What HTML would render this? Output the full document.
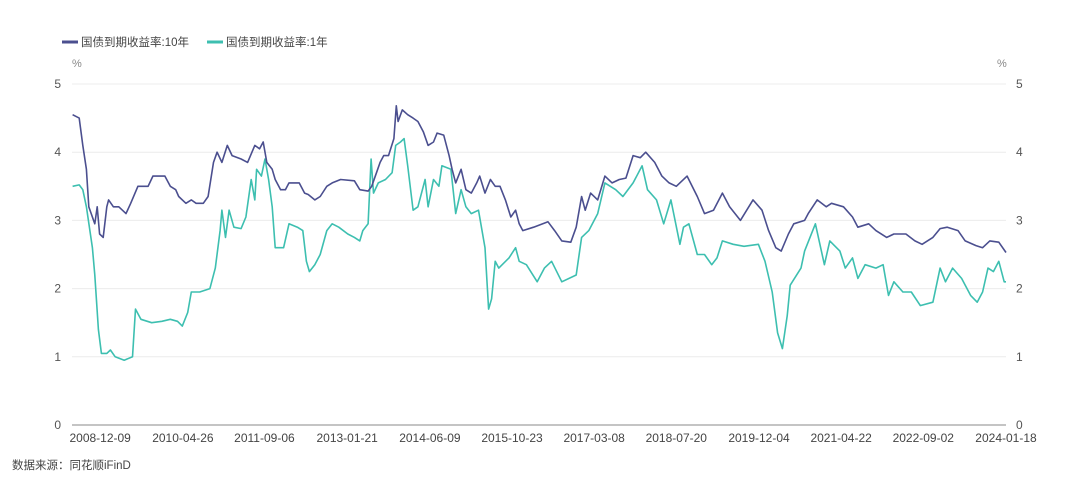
<!DOCTYPE html>
<html><head><meta charset="utf-8">
<style>
html,body{margin:0;padding:0;background:#fff;width:1080px;height:488px;overflow:hidden}
svg{display:block;font-family:"Liberation Sans","Noto Sans CJK SC",sans-serif}
</style></head>
<body>
<svg id="chart" width="1080" height="488" viewBox="0 0 1080 488">
  <g>
    <g>
      <line x1="62" y1="42" x2="78" y2="42" stroke="#4b4f8f" stroke-width="3"/>
      <text x="81" y="46" font-size="11.5" fill="#444">国债到期收益率:10年</text>
    </g>
    <g>
      <line x1="207" y1="42" x2="223" y2="42" stroke="#3dbfb0" stroke-width="3"/>
      <text x="226" y="46" font-size="11.5" fill="#444">国债到期收益率:1年</text>
    </g>
  </g>
  <text x="72" y="67" font-size="11" fill="#888">%</text>
  <text x="997" y="67" font-size="11" fill="#888">%</text>
  <g id="grid"></g>
  <g id="yl"></g>
  <g id="yr"></g>
  <g id="xa"></g>
  <g id="series"></g>
  <text x="12" y="469" font-size="11.5" fill="#444">数据来源：同花顺iFinD</text>
</svg>
<script>
const yTicks = [0,1,2,3,4,5];
const xTickLabels = ["2008-12-09","2010-04-26","2011-09-06","2013-01-21","2014-06-09","2015-10-23","2017-03-08","2018-07-20","2019-12-04","2021-04-22","2022-09-02","2024-01-18"];
const xTickYears = [2008.94,2010.32,2011.68,2013.06,2014.44,2015.81,2017.18,2018.55,2019.93,2021.30,2022.67,2024.05];

const t10 = [2008.48,2008.59,2008.65,2008.71,2008.75,2008.79,2008.85,2008.89,2008.93,2008.99,2009.05,2009.08,2009.16,2009.25,2009.37,2009.45,2009.57,2009.74,2009.82,2009.97,2010.02,2010.11,2010.20,2010.25,2010.37,2010.46,2010.54,2010.66,2010.74,2010.83,2010.89,2010.97,2011.06,2011.14,2011.29,2011.40,2011.52,2011.60,2011.66,2011.72,2011.81,2011.86,2011.95,2012.03,2012.09,2012.26,2012.35,2012.41,2012.52,2012.61,2012.72,2012.81,2012.95,2013.18,2013.27,2013.41,2013.47,2013.55,2013.61,2013.67,2013.75,2013.84,2013.88,2013.91,2013.98,2014.07,2014.16,2014.24,2014.33,2014.41,2014.50,2014.56,2014.67,2014.76,2014.81,2014.87,2014.96,2015.04,2015.13,2015.22,2015.27,2015.36,2015.45,2015.53,2015.61,2015.70,2015.79,2015.87,
2015.93,2015.99,2016.17,2016.41,2016.52,2016.64,2016.79,2016.88,2016.97,2017.03,2017.12,2017.24,2017.36,2017.48,2017.60,2017.71,2017.83,2017.95,2018.04,2018.19,2018.31,2018.43,2018.55,2018.73,2018.90,2019.02,2019.17,2019.32,2019.44,2019.62,2019.83,2019.98,2020.09,2020.21,2020.30,2020.42,2020.51,2020.69,2020.75,2020.90,2021.05,2021.14,2021.34,2021.49,2021.58,2021.76,2021.88,2022.06,2022.18,2022.38,2022.53,2022.65,2022.83,2022.95,2023.07,2023.25,2023.37,2023.55,2023.66,2023.78,2023.93,2024.05];
const v10 = [4.55,4.50,4.10,3.75,3.20,3.10,2.95,3.20,2.80,2.75,3.20,3.30,3.20,3.20,3.10,3.25,3.50,3.50,3.65,3.65,3.65,3.50,3.45,3.35,3.25,3.30,3.25,3.25,3.35,3.85,4.00,3.85,4.10,3.95,3.90,3.85,4.10,4.05,4.15,3.85,3.75,3.60,3.45,3.45,3.55,3.55,3.40,3.38,3.30,3.35,3.50,3.55,3.60,3.58,3.45,3.43,3.50,3.70,3.85,3.95,3.95,4.20,4.68,4.45,4.62,4.55,4.50,4.45,4.30,4.10,4.15,4.28,4.25,3.95,3.75,3.55,3.75,3.45,3.40,3.55,3.65,3.40,3.60,3.50,3.50,3.30,3.05,3.15,
2.95,2.85,2.90,2.98,2.85,2.70,2.68,2.90,3.35,3.15,3.40,3.30,3.65,3.55,3.60,3.62,3.95,3.92,4.00,3.85,3.65,3.55,3.50,3.65,3.35,3.10,3.15,3.40,3.20,3.00,3.30,3.15,2.85,2.60,2.55,2.80,2.95,3.00,3.10,3.30,3.20,3.25,3.20,3.05,2.90,2.95,2.85,2.75,2.80,2.80,2.70,2.65,2.75,2.88,2.90,2.85,2.70,2.63,2.60,2.70,2.68,2.53];

const t1 = [2008.48,2008.59,2008.65,2008.71,2008.76,2008.81,2008.85,2008.91,2008.96,2009.05,2009.11,2009.19,2009.34,2009.48,2009.53,2009.62,2009.80,2009.97,2010.11,2010.23,2010.31,2010.40,2010.46,2010.60,2010.77,2010.86,2010.94,2010.97,2011.03,2011.09,2011.17,2011.29,2011.37,2011.46,2011.52,2011.55,2011.63,2011.69,2011.75,2011.81,2011.86,2011.95,2012.00,2012.09,2012.23,2012.32,2012.38,2012.43,2012.52,2012.61,2012.72,2012.81,2012.92,2013.07,2013.18,2013.27,2013.32,2013.41,2013.46,2013.50,2013.58,2013.70,2013.81,2013.87,2013.95,2014.01,2014.07,2014.16,2014.24,2014.36,2014.41,2014.50,2014.59,2014.64,2014.79,2014.87,2014.96,2015.04,2015.13,2015.25,2015.36,2015.42,2015.47,2015.53,2015.59,2015.76,2015.87,
2015.93,2016.05,2016.23,2016.35,2016.47,2016.64,2016.88,2016.97,2017.09,2017.24,2017.36,2017.54,2017.66,2017.83,2017.98,2018.07,2018.22,2018.34,2018.46,2018.61,2018.67,2018.76,2018.90,2019.02,2019.14,2019.23,2019.32,2019.50,2019.68,2019.92,2020.03,2020.15,2020.24,2020.32,2020.40,2020.45,2020.63,2020.69,2020.87,2021.02,2021.11,2021.28,2021.37,2021.49,2021.58,2021.70,2021.88,2022.00,2022.09,2022.18,2022.33,2022.47,2022.62,2022.83,2022.95,2023.04,2023.16,2023.31,2023.46,2023.57,2023.66,2023.75,2023.84,2023.93,2024.02,2024.05];
const v1 = [3.50,3.52,3.45,3.20,2.90,2.60,2.20,1.40,1.05,1.05,1.10,1.00,0.95,1.00,1.70,1.55,1.50,1.52,1.55,1.52,1.45,1.65,1.95,1.95,2.00,2.30,2.85,3.15,2.75,3.15,2.90,2.88,3.05,3.60,3.30,3.75,3.65,3.90,3.60,3.20,2.60,2.60,2.60,2.95,2.90,2.85,2.40,2.25,2.35,2.50,2.85,2.95,2.90,2.80,2.75,2.70,2.85,2.95,3.90,3.40,3.55,3.60,3.70,4.10,4.15,4.20,3.80,3.15,3.20,3.60,3.20,3.60,3.50,3.80,3.75,3.10,3.45,3.20,3.10,3.15,2.60,1.70,1.85,2.40,2.30,2.45,2.60,
2.40,2.35,2.10,2.30,2.40,2.10,2.20,2.75,2.85,3.10,3.55,3.45,3.35,3.55,3.80,3.45,3.30,2.95,3.30,2.65,2.90,2.95,2.50,2.50,2.35,2.45,2.70,2.65,2.62,2.65,2.40,1.95,1.35,1.12,1.60,2.05,2.30,2.55,2.95,2.35,2.70,2.55,2.30,2.45,2.15,2.35,2.30,2.35,1.90,2.10,1.95,1.95,1.75,1.80,2.30,2.10,2.30,2.15,1.90,1.80,1.95,2.30,2.25,2.40,2.10,2.10];

const NS = "http://www.w3.org/2000/svg";
const X0 = 72, X1 = 1006, T0 = 2008.47, T1 = 2024.05;
const Y0 = 425, Y5 = 84;
function xs(t){ return X0 + (t - T0) * (X1 - X0) / (T1 - T0); }
function ys(v){ return Y0 - v * (Y0 - Y5) / 5; }
function mk(tag, attrs, parent){ const e = document.createElementNS(NS, tag); for (const k in attrs) e.setAttribute(k, attrs[k]); parent.appendChild(e); return e; }

const grid = document.getElementById('grid'), yl = document.getElementById('yl'), yr = document.getElementById('yr'), xa = document.getElementById('xa'), ser = document.getElementById('series');
yTicks.forEach(v => {
  if (v > 0) {
    const g = mk('line', {x1:X0, x2:X1, y1:ys(v), y2:ys(v), stroke:'#ececec', 'stroke-width':1}, grid);
    
    
  }
  const a = mk('text', {x:61, y:ys(v)+4, 'font-size':12, fill:'#555', 'text-anchor':'end'}, yl);
  a.textContent = v;
  
  
  const b = mk('text', {x:1016, y:ys(v)+4, 'font-size':12, fill:'#555'}, yr);
  b.textContent = v;
  
  
});
const ax = mk('line', {x1:X0, x2:X1, y1:Y0, y2:Y0, stroke:'#8a8a8a', 'stroke-width':1}, xa);


xTickLabels.forEach((lab, i) => {
  const t = mk('text', {x:xs(xTickYears[i]), y:442, 'font-size':12, fill:'#444', 'text-anchor':'middle'}, xa);
  t.textContent = lab;
  
  
});
function line(ts, vs, color, name){
  const d = ts.map((t, i) => (i ? 'L' : 'M') + xs(t).toFixed(1) + ' ' + ys(vs[i]).toFixed(1)).join(' ');
  const p = mk('path', {d:d, fill:'none', stroke:color, 'stroke-width':1.6, 'stroke-linejoin':'round'}, ser);
  
  
}
line(t1, v1, '#3dbfb0', 'line-1y-yield');
line(t10, v10, '#4b4f8f', 'line-10y-yield');
</script>
</body></html>
